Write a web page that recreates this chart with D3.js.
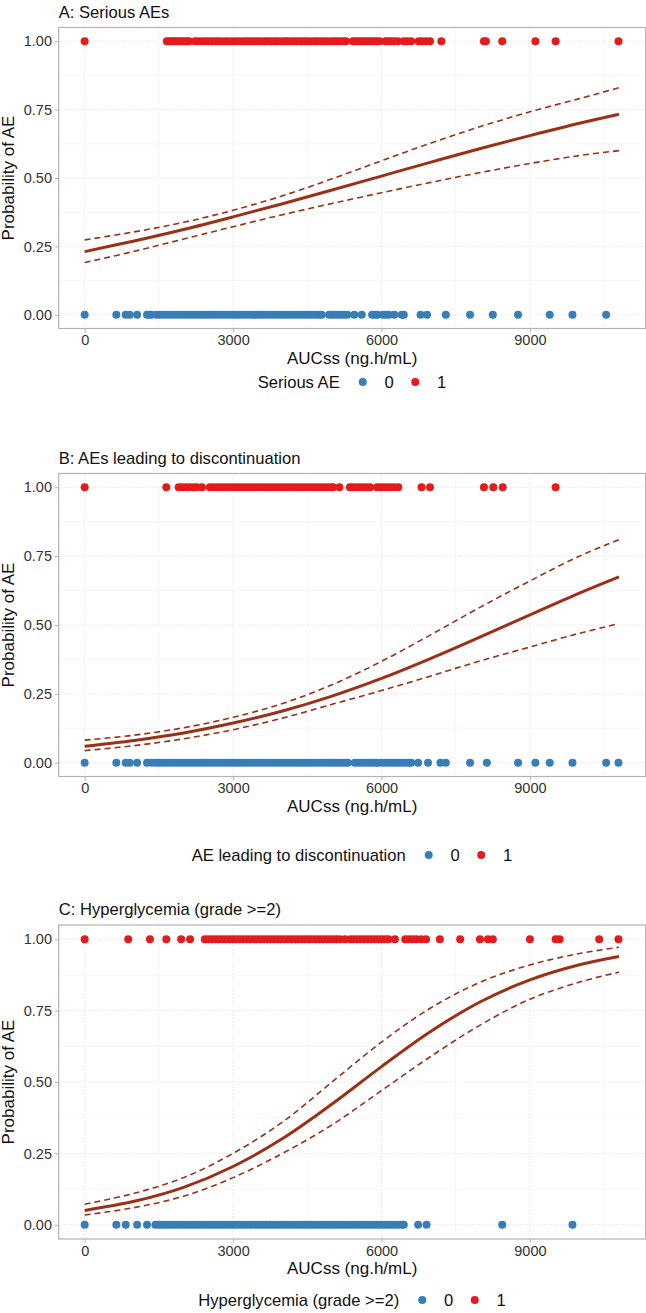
<!DOCTYPE html>
<html><head><meta charset="utf-8">
<script src="https://cdn.jsdelivr.net/npm/d3@7"></script>
<style>
body{margin:0;background:#fff}
svg{display:block}
text{font-family:"Liberation Sans",Arial,Helvetica,sans-serif}
</style>
</head><body>
<svg id="chart" width="646" height="1313"></svg>
<script>
// ---------------- data ----------------
const panelTitles = ["A: Serious AEs", "B: AEs leading to discontinuation", "C: Hyperglycemia (grade >=2)"];
const legendTitles = ["Serious AE", "AE leading to discontinuation", "Hyperglycemia (grade >=2)"];
const legendLabels = ["0", "1"];
const xTicks = [0, 3000, 6000, 9000];
const xMinor = [1500, 4500, 7500, 10500];
const yTicks = [0, 0.25, 0.5, 0.75, 1];
const yTickLabels = ["0.00", "0.25", "0.50", "0.75", "1.00"];
const yMinor = [0.125, 0.375, 0.625, 0.875];
const xTitle = "AUCss (ng.h/mL)";
const yTitle = "Probability of AE";

// AUCss of subjects with event (1) / without event (0)
const aEvent1 = [0,1660,1700,1750,1800,1850,1900,1950,2000,2060,2110,
 2230,2300,2370,2440,2500,2570,2640,2700,2770,2840,2900,2970,3040,3100,3170,3240,3300,3370,3440,3500,
 3570,3640,3700,3770,3840,3900,3970,4040,4100,4170,4240,4300,4370,4440,4500,4570,4640,4700,4770,4840,
 4900,4970,5040,5100,5170,5240,5280,5420,5480,5540,5600,5660,5720,5780,5840,5900,5960,
 6080,6140,6200,6260,6330,6450,6520,6600,6750,6820,6900,6980,7210,8070,8110,8440,9110,9520,10790];
const aEvent0 = [0,640,830,910,1060,1260,1300,1350,1450,1520,1590,1660,1730,1800,1870,1940,2010,2080,
 2150,2220,2290,2360,2430,2500,2570,2640,2710,2780,2850,2920,2990,3060,3130,3200,3270,3340,3410,3480,
 3550,3620,3690,3760,3830,3900,3970,4040,4110,4180,4250,4320,4390,4460,4530,4600,4670,4740,4790,
 4940,5000,5060,5120,5180,5240,5310,5450,5600,5810,5870,5920,6030,6090,6150,6260,6410,6450,6790,6920,
 7300,7790,8250,8760,9400,9860,10540];
const bEvent1 = [0,1650,1900,1970,2050,2120,2200,2270,2370,2530,2600,2670,2740,2810,2880,2950,3020,3090,
 3160,3230,3300,3370,3440,3510,3580,3650,3720,3790,3860,3930,4000,4070,4140,4210,4280,4350,4420,4490,
 4560,4630,4700,4770,4840,4910,4980,5020,5150,5360,5420,5490,5560,5630,5700,5770,5910,5980,6050,6120,
 6190,6260,6340,6810,6980,8070,8260,8450,9520];
const bEvent0 = [0,640,830,910,1060,1260,1350,1430,1500,1570,1640,1710,1780,1850,1920,1990,2060,2130,
 2200,2270,2340,2410,2480,2550,2620,2690,2760,2830,2900,2970,3040,3110,3180,3250,3320,3390,3460,3530,
 3600,3670,3740,3810,3880,3950,4020,4090,4160,4230,4300,4370,4440,4510,4580,4650,4720,4790,4860,4930,
 5000,5070,5140,5210,5280,5320,5460,5530,5600,5670,5740,5810,5880,5920,6000,6070,6140,6210,6280,6350,
 6420,6490,6560,6600,6740,6940,7190,7300,7790,8130,8760,9110,9400,9860,10540,10790];
const cEvent1 = [0,880,1320,1650,1950,2130,2430,2500,2570,2640,2710,2780,2850,2920,2990,3060,3130,3200,
 3270,3340,3410,3480,3550,3620,3690,3760,3830,3900,3970,4040,4110,4180,4250,4320,4390,4460,4530,4600,
 4670,4740,4810,4880,4950,5020,5090,5160,5260,5370,5440,5510,5580,5650,5720,5790,5860,5930,6000,6070,
 6140,6270,6480,6550,6620,6700,6800,6900,7180,7590,7990,8150,8250,9000,9520,9600,10400,10790];
const cEvent0 = [0,640,830,1060,1260,1430,1500,1570,1640,1710,1780,1850,1920,1990,2060,2130,2200,2270,
 2340,2410,2480,2550,2620,2690,2760,2830,2900,2970,3040,3110,3180,3250,3320,3390,3460,3530,3600,3670,
 3740,3810,3880,3950,4020,4090,4160,4230,4300,4370,4440,4510,4580,4650,4720,4790,4860,4930,5000,5070,
 5140,5210,5280,5350,5420,5490,5560,5630,5700,5770,5840,5910,5980,6050,6120,6190,6260,6330,6400,6450,
 6740,6910,8440,9860];

// fitted logistic curves with 95% CI (read at these AUCss values)
const curveX = [0,1000,2000,3000,4000,5000,6000,7000,8000,9000,10000,10800];
const aFit   = [0.231,0.270,0.312,0.358,0.406,0.456,0.507,0.558,0.608,0.655,0.700,0.733];
const aUpper = [0.274,0.303,0.338,0.382,0.435,0.497,0.563,0.628,0.688,0.742,0.790,0.830];
const aLower = [0.191,0.232,0.277,0.322,0.366,0.407,0.446,0.484,0.520,0.553,0.582,0.600];
const bFit   = [0.060,0.081,0.108,0.144,0.188,0.242,0.306,0.379,0.457,0.537,0.616,0.675];
const bUpper = [0.082,0.100,0.127,0.165,0.215,0.283,0.368,0.465,0.565,0.660,0.750,0.810];
const bLower = [0.044,0.062,0.087,0.120,0.162,0.212,0.262,0.315,0.370,0.420,0.470,0.505];
const cFit   = [0.050,0.082,0.131,0.204,0.302,0.423,0.554,0.678,0.781,0.858,0.911,0.940];
const cUpper = [0.072,0.110,0.165,0.250,0.360,0.500,0.640,0.760,0.850,0.910,0.950,0.972];
const cLower = [0.034,0.060,0.100,0.165,0.250,0.350,0.470,0.590,0.700,0.790,0.850,0.885];

// ---------------- layout ----------------
const colors = {"0": "#377EB8", "1": "#E41A1C"};
const lineColor = "#9C2F16";
const panelLeft = 58.7, panelRight = 645.7;
const layout = [
  {top: 27.5, bottom: 328.5, titleY: 18, legendY: 382},
  {top: 473.5, bottom: 776.5, titleY: 464, legendY: 855},
  {top: 925, bottom: 1239, titleY: 915, legendY: 1300}
];
const panelsData = [
  {e1: aEvent1, e0: aEvent0, fit: aFit, up: aUpper, lo: aLower},
  {e1: bEvent1, e0: bEvent0, fit: bFit, up: bUpper, lo: bLower},
  {e1: cEvent1, e0: cEvent0, fit: cFit, up: cUpper, lo: cLower}
];

const svg = d3.select("#chart");
const x = d3.scaleLinear().domain([-525, 11340]).range([panelLeft, panelRight]);

panelsData.forEach((pd, i) => {
  const L = layout[i];
  const y = d3.scaleLinear().domain([-0.05, 1.05]).range([L.bottom, L.top]);
  const g = svg.append("g");

  // minor grid
  g.selectAll(".mx").data(xMinor).join("line")
    .attr("x1", d => x(d)).attr("x2", d => x(d)).attr("y1", L.top).attr("y2", L.bottom)
    .attr("stroke", "#f0f0f0").attr("stroke-width", 0.6);
  g.selectAll(".my").data(yMinor).join("line")
    .attr("y1", d => y(d)).attr("y2", d => y(d)).attr("x1", panelLeft).attr("x2", panelRight)
    .attr("stroke", "#f0f0f0").attr("stroke-width", 0.6);
  // major grid (dotted)
  g.selectAll(".gx").data(xTicks).join("line")
    .attr("x1", d => x(d)).attr("x2", d => x(d)).attr("y1", L.top).attr("y2", L.bottom)
    .attr("stroke", "#dcdcdc").attr("stroke-width", 1).attr("stroke-dasharray", "1,2");
  g.selectAll(".gy").data(yTicks).join("line")
    .attr("y1", d => y(d)).attr("y2", d => y(d)).attr("x1", panelLeft).attr("x2", panelRight)
    .attr("stroke", "#dcdcdc").attr("stroke-width", 1).attr("stroke-dasharray", "1,2");

  // points
  const pts = pd.e0.map(v => ({x: v, y: 0, c: "0"})).concat(pd.e1.map(v => ({x: v, y: 1, c: "1"})));
  g.selectAll("circle.pt").data(pts).join("circle")
    .attr("cx", d => x(d.x)).attr("cy", d => y(d.y)).attr("r", 4)
    .attr("fill", d => colors[d.c]);

  // curves
  const line = arr => d3.line().x((d, j) => x(curveX[j])).y(d => y(d)).curve(d3.curveCatmullRom.alpha(0.5))(arr);
  g.append("path").attr("d", line(pd.up)).attr("fill", "none").attr("stroke", lineColor)
    .attr("stroke-width", 1.6).attr("stroke-dasharray", "6,4");
  g.append("path").attr("d", line(pd.lo)).attr("fill", "none").attr("stroke", lineColor)
    .attr("stroke-width", 1.6).attr("stroke-dasharray", "6,4");
  g.append("path").attr("d", line(pd.fit)).attr("fill", "none").attr("stroke", lineColor)
    .attr("stroke-width", 3);

  // border
  g.append("rect").attr("x", panelLeft).attr("y", L.top)
    .attr("width", panelRight - panelLeft).attr("height", L.bottom - L.top)
    .attr("fill", "none").attr("stroke", "#b3b3b3").attr("stroke-width", 1.2);

  // axes
  const xa = g.append("g").attr("transform", `translate(0,${L.bottom})`)
    .call(d3.axisBottom(x).tickValues(xTicks).tickSize(3.7).tickPadding(3).tickFormat(d3.format("d")));
  xa.select(".domain").remove();
  xa.selectAll("line").attr("stroke", "#b3b3b3");
  xa.selectAll("text").attr("font-size", 14.5).attr("fill", "#333").attr("font-family", "Liberation Sans, Arial, sans-serif");
  const ya = g.append("g").attr("transform", `translate(${panelLeft},0)`)
    .call(d3.axisLeft(y).tickValues(yTicks).tickSize(3.7).tickPadding(3).tickFormat((d, j) => yTickLabels[j]));
  ya.select(".domain").remove();
  ya.selectAll("line").attr("stroke", "#b3b3b3");
  ya.selectAll("text").attr("font-size", 14.5).attr("fill", "#333").attr("font-family", "Liberation Sans, Arial, sans-serif");

  // titles
  g.append("text").attr("x", panelLeft).attr("y", L.titleY).attr("font-size", 16.6).attr("fill", "#111")
    .text(panelTitles[i]);
  g.append("text").attr("x", (panelLeft + panelRight) / 2).attr("y", L.bottom + 35)
    .attr("text-anchor", "middle").attr("font-size", 17).attr("fill", "#111").text(xTitle);
  g.append("text").attr("transform", `translate(13.5,${(L.top + L.bottom) / 2}) rotate(-90)`)
    .attr("text-anchor", "middle").attr("font-size", 17).attr("fill", "#111").text(yTitle);

  // legend
  const lg = g.append("g");
  const lt = lg.append("text").attr("x", 0).attr("y", L.legendY + 6).attr("font-size", 16.6).attr("fill", "#111")
    .text(legendTitles[i]);
  const tw = lt.node().getComputedTextLength();
  let cx = tw + 23;
  legendLabels.forEach((lab, k) => {
    lg.append("circle").attr("cx", cx).attr("cy", L.legendY).attr("r", 4).attr("fill", colors[lab]);
    lg.append("text").attr("x", cx + 26.5).attr("y", L.legendY + 6).attr("text-anchor", "middle")
      .attr("font-size", 16.6).attr("fill", "#111").text(lab);
    cx += 52.5;
  });
  const total = cx - 52.5 + 26.5 + 5;
  lg.attr("transform", `translate(${(panelLeft + panelRight) / 2 - total / 2},0)`);
});
</script>
</body></html>
